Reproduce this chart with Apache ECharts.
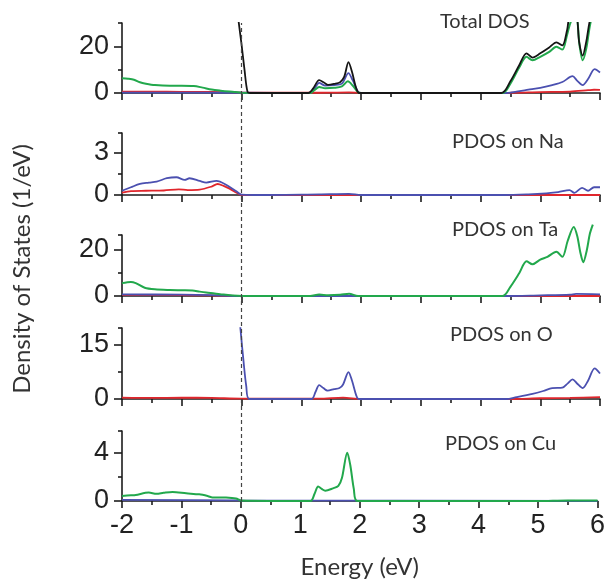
<!DOCTYPE html>
<html>
<head>
<meta charset="utf-8">
<script src="https://cdn.jsdelivr.net/npm/echarts@6/dist/echarts.min.js"></script>
<style>
  html, body { margin: 0; padding: 0; background: #fff; }
  #main { width: 608px; height: 587px; }
</style>
</head>
<body>
<div id="main"></div>
<script>
// energy (eV) vs DOS (1/eV)
var totBlack = [[-0.06, 34], [-0.05, 31], [0, 21], [0.05, 10], [0.1, 0.6], [0.15, 0], [1.12, 0], [1.2, 2], [1.3, 5.5], [1.38, 4.5], [1.45, 3.5], [1.55, 3.9], [1.65, 4.6], [1.72, 7], [1.79, 13.2], [1.85, 9], [1.92, 2], [1.97, 0], [4.35, 0], [4.5, 5], [4.65, 12], [4.77, 17], [4.87, 15.2], [5.0, 17], [5.15, 19.5], [5.27, 21.7], [5.37, 20.4], [5.45, 27], [5.5, 33], [5.6, 33], [5.65, 22], [5.71, 16], [5.77, 22], [5.83, 31], [5.9, 36], [6, 38]];
var totGreen = [[-2, 6.3], [-1.9, 6.1], [-1.8, 5.7], [-1.7, 4.6], [-1.6, 4.0], [-1.45, 3.4], [-1.2, 3.1], [-1.0, 3.1], [-0.8, 3.0], [-0.65, 2.3], [-0.5, 1.5], [-0.35, 1.0], [-0.2, 0.6], [-0.1, 0.4], [0, 0.1], [1.15, 0], [1.22, 1.2], [1.3, 2.6], [1.4, 2], [1.55, 2.2], [1.68, 2.8], [1.78, 5], [1.86, 3.2], [1.95, 0.3], [2, 0], [4.37, 0], [4.5, 4], [4.65, 11], [4.77, 15.5], [4.87, 14], [5.0, 15.5], [5.15, 17.6], [5.27, 19.8], [5.37, 18.6], [5.45, 25], [5.52, 31], [5.6, 32], [5.66, 20], [5.71, 14], [5.77, 19], [5.84, 30], [5.9, 34], [6, 36]];
var totBlue = [[-2, 0.2], [0, 0.1], [1.15, 0], [1.22, 1.8], [1.3, 4.3], [1.4, 3.2], [1.55, 3.4], [1.68, 4], [1.79, 8.5], [1.86, 5.5], [1.95, 0.5], [2, 0], [4.4, 0], [4.6, 0.6], [4.8, 1.4], [5.0, 2.2], [5.2, 3.4], [5.37, 4.7], [5.54, 7.2], [5.62, 5.2], [5.71, 3.4], [5.8, 6], [5.91, 10.2], [6, 8.8]];
var totRed = [[-2, 0.6], [-1.5, 0.6], [-1, 0.5], [-0.5, 0.5], [0, 0.2], [1.2, 0.1], [1.8, 0.3], [2, 0], [4.5, 0.1], [5, 0.4], [5.5, 0.6], [5.8, 1.2], [5.9, 1.4], [6, 1.3]];

var naBlue = [[-2, 0.3], [-1.85, 0.55], [-1.7, 0.79], [-1.55, 0.88], [-1.42, 0.95], [-1.25, 1.19], [-1.09, 1.26], [-0.95, 1.07], [-0.87, 1.19], [-0.7, 1.0], [-0.59, 0.88], [-0.42, 1.0], [-0.25, 0.71], [-0.08, 0.24], [0, 0.02], [0.2, 0], [1.3, 0.05], [1.8, 0.08], [2, 0], [4.4, 0], [4.8, 0.05], [5.1, 0.12], [5.3, 0.2], [5.49, 0.35], [5.57, 0.15], [5.7, 0.5], [5.8, 0.3], [5.9, 0.55], [6, 0.55]];
var naRed = [[-2, 0.17], [-1.85, 0.28], [-1.6, 0.3], [-1.3, 0.32], [-1.05, 0.4], [-0.9, 0.35], [-0.7, 0.38], [-0.5, 0.6], [-0.4, 0.78], [-0.3, 0.65], [-0.2, 0.45], [-0.1, 0.2], [0, 0], [6, 0]];

var taGreen = [[-2, 5.6], [-1.85, 6.1], [-1.77, 5.6], [-1.62, 3.6], [-1.45, 2.9], [-1.2, 2.6], [-1.0, 2.5], [-0.82, 2.4], [-0.7, 1.9], [-0.59, 1.5], [-0.45, 1.1], [-0.3, 0.6], [-0.15, 0.25], [0, 0.05], [1.15, 0], [1.3, 0.6], [1.45, 0.3], [1.65, 0.5], [1.8, 1.0], [1.95, 0], [4.37, 0], [4.5, 4], [4.65, 10], [4.77, 15.1], [4.87, 13.8], [5.0, 15.8], [5.12, 17], [5.27, 19.2], [5.37, 17], [5.46, 24], [5.56, 30], [5.62, 26], [5.67, 19], [5.72, 14.7], [5.78, 20], [5.83, 27], [5.88, 31]];
var taBlue = [[-2, 0.7], [-1, 0.6], [-0.5, 0.4], [0, 0], [4.4, 0], [5, 0.3], [5.5, 0.6], [5.6, 0.9], [6, 0.7]];
var taRed = [[-2, 0.5], [-1, 0.4], [0, 0.05], [6, 0]];

var oBlue = [[-0.02, 19.7], [0.03, 11], [0.08, 3.5], [0.13, 0], [1.17, 0], [1.24, 2], [1.3, 3.8], [1.37, 3.0], [1.44, 2.3], [1.55, 2.7], [1.64, 3.0], [1.7, 4], [1.79, 7.4], [1.85, 5], [1.92, 1], [1.96, 0], [4.43, 0], [4.6, 0.5], [4.87, 1.4], [5.05, 2.2], [5.2, 3.0], [5.37, 3.1], [5.46, 4.3], [5.54, 5.4], [5.62, 4.2], [5.71, 3.0], [5.8, 5], [5.91, 8.4], [6, 7]];
var oRed = [[-2, 0.4], [-1.5, 0.3], [-1, 0.35], [-0.5, 0.3], [0, 0.1], [1.3, 0.1], [1.7, 0.4], [2, 0], [4.5, 0], [5, 0.2], [5.5, 0.3], [6, 0.5]];

var cuGreen = [[-2, 0.42], [-1.85, 0.47], [-1.77, 0.5], [-1.55, 0.7], [-1.42, 0.6], [-1.3, 0.68], [-1.15, 0.75], [-0.92, 0.64], [-0.7, 0.55], [-0.55, 0.4], [-0.48, 0.3], [-0.25, 0.28], [-0.08, 0.2], [0, 0.05], [1.17, 0], [1.24, 0.6], [1.3, 1.2], [1.36, 1.0], [1.42, 0.85], [1.55, 1.05], [1.64, 1.25], [1.7, 1.9], [1.79, 4.0], [1.84, 3.0], [1.9, 1.0], [1.96, 0], [5, 0], [5.5, 0.05], [6, 0.05]];
var cuBlue = [[-2, 0.1], [0, 0.05], [6, 0]];

var panelNames = ['Total DOS', 'PDOS on Na', 'PDOS on Ta', 'PDOS on O', 'PDOS on Cu'];
var yMax = [30, 4.4, 26.5, 19.5, 5.8];
var yMajor = [[0, 20], [0, 3], [0, 20], [0, 15], [0, 4]];
var yMinor = [[10, 30], [1.5, 4.4], [10, 26.5], [7.5, 19.5], [2, 5.8]];
var xTicks = [-2, -1, 0, 1, 2, 3, 4, 5, 6];
var fermiLevel = 0;

var GREEN = '#22a84c', BLUE = '#4b50b0', RED = '#e0262c', BLACK = '#151515';
var panelSeries = [
  [[totRed, RED], [totBlue, BLUE], [totGreen, GREEN], [totBlack, BLACK]],
  [[naRed, RED], [naBlue, BLUE]],
  [[taRed, RED], [taBlue, BLUE], [taGreen, GREEN]],
  [[oRed, RED], [oBlue, BLUE]],
  [[cuBlue, BLUE], [cuGreen, GREEN]]
];

var tops = [23, 133, 235, 328, 431];
var heights = [70, 62, 61, 71, 70];
var titlePos = [[440, 12], [452, 132], [452, 220], [450, 325], [445, 434]];
var axisColor = '#1c1c1c';
var tickFont = 'Liberation Sans, Arial, sans-serif';
var textFont = 'Lato, Open Sans, sans-serif';

var grids = [], xAxes = [], yAxes = [], series = [], titles = [];
for (var i = 0; i < 5; i++) {
  grids.push({ left: 122, width: 478, top: tops[i], height: heights[i] });
  var last = i === 4;
  xAxes.push({
    gridIndex: i, type: 'value', min: xTicks[0], max: xTicks[xTicks.length - 1], interval: 1,
    axisLine: { onZero: false, lineStyle: { color: axisColor, width: 1.6 } },
    axisTick: { show: true, length: 7, lineStyle: { color: axisColor, width: 1.6 } },
    minorTick: { show: true, splitNumber: 2, length: 4, lineStyle: { color: axisColor, width: 1.6 } },
    splitLine: { show: false },
    axisLabel: { show: last, fontSize: 27, fontFamily: tickFont, color: '#222', margin: 11 },
    name: last ? 'Energy (eV)' : '', nameLocation: 'middle', nameGap: 54,
    nameTextStyle: { fontSize: 24, fontFamily: textFont, color: '#333' }
  });
  yAxes.push({
    gridIndex: i, type: 'value', min: 0, max: yMax[i], position: 'left',
    axisLine: { show: true, onZero: false, lineStyle: { color: axisColor, width: 1.6 } },
    axisTick: { show: true, customValues: yMajor[i], length: 8, lineStyle: { color: axisColor, width: 1.6 } },
    axisLabel: { customValues: yMajor[i], fontSize: 27, fontFamily: tickFont, color: '#222', margin: 13 },
    splitLine: { show: false }
  });
  yAxes.push({
    gridIndex: i, type: 'value', min: 0, max: yMax[i], position: 'left', offset: 0,
    axisLine: { show: false, onZero: false },
    axisTick: { show: true, customValues: yMinor[i], length: 4, lineStyle: { color: axisColor, width: 1.6 } },
    axisLabel: { show: false },
    splitLine: { show: false }
  });
  panelSeries[i].forEach(function (s) {
    series.push({
      type: 'line', xAxisIndex: i, yAxisIndex: 2 * i, data: s[0], showSymbol: false, symbol: 'none',
      clip: i !== 2, smooth: 0.3, animation: false, silent: true,
      lineStyle: { color: s[1], width: s[1] === GREEN ? 2 : 1.8 }
    });
  });
  titles.push({
    text: panelNames[i], left: titlePos[i][0], top: titlePos[i][1], padding: 0,
    textStyle: { fontSize: 20, fontWeight: 'normal', fontFamily: textFont, color: '#333' }
  });
}

// overlay for the dashed Fermi line
grids.push({ left: 122, width: 478, top: 23, height: 478 });
xAxes.push({ gridIndex: 5, type: 'value', min: -2, max: 6, show: false });
yAxes.push({ gridIndex: 5, type: 'value', min: 0, max: 1, show: false });
series.push({
  type: 'line', xAxisIndex: 5, yAxisIndex: 10, data: [], animation: false, silent: true,
  markLine: {
    symbol: ['none', 'none'], silent: true, label: { show: false },
    lineStyle: { color: '#444', type: [4, 3], width: 1.2 },
    data: [{ xAxis: fermiLevel }]
  }
});

// overlay holding the y-axis title
grids.push({ left: 122, width: 478, top: 37, height: 464 });
xAxes.push({ gridIndex: 6, type: 'value', min: -2, max: 6, show: false });
yAxes.push({
  gridIndex: 6, type: 'value', min: 0, max: 1,
  axisLine: { show: false }, axisTick: { show: false }, axisLabel: { show: false }, splitLine: { show: false },
  name: 'Density of States (1/eV)', nameLocation: 'middle', nameGap: 88,
  nameTextStyle: { fontSize: 24, fontFamily: textFont, color: '#333' }
});

var myChart = echarts.init(document.getElementById('main'));
myChart.setOption({
  animation: false,
  title: titles,
  grid: grids,
  xAxis: xAxes,
  yAxis: yAxes,
  series: series
});
</script>
</body>
</html>
